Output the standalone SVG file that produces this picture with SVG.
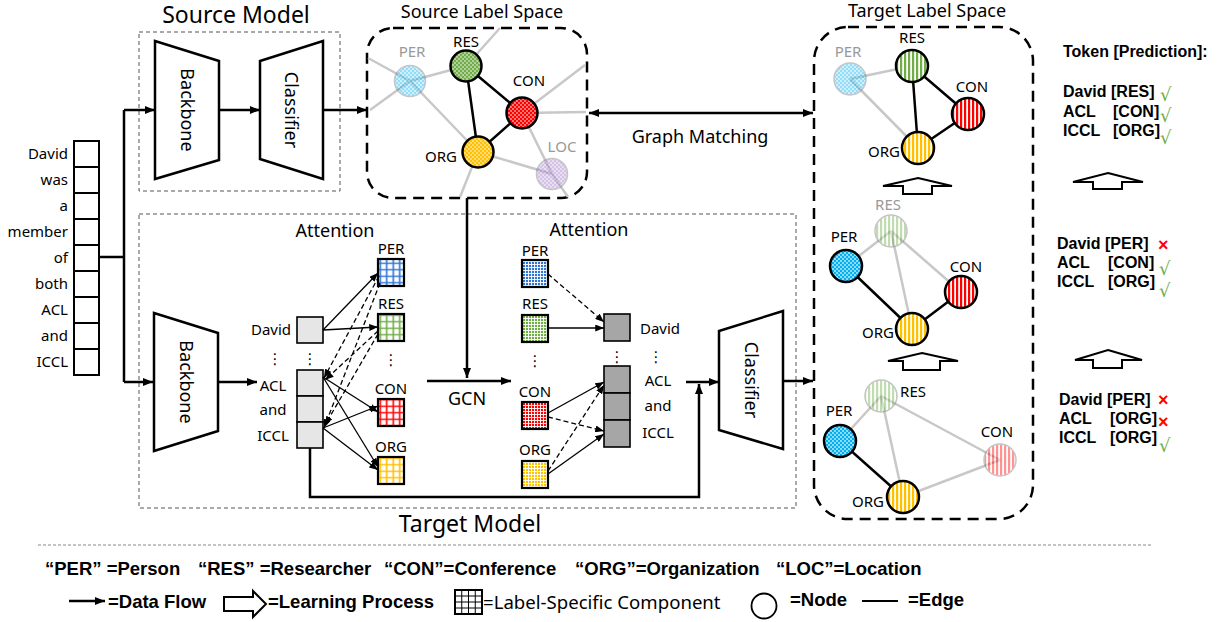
<svg xmlns="http://www.w3.org/2000/svg" width="1221" height="622" viewBox="0 0 1221 622">
<style>
.t{font-family:"Noto Sans","Open Sans","DejaVu Sans",sans-serif;fill:#000}
.b{font-family:"Liberation Sans",Arial,sans-serif;font-weight:bold;fill:#000}
.ttl{font-size:23px}
.sub{font-size:18px}
.lbl{font-size:15px}
.gl{fill:#999}
.mid{text-anchor:middle}
.end{text-anchor:end}
.ge{stroke:#c8c8c8;stroke-width:2.5;fill:none}
.be{stroke:#000;stroke-width:2.5;fill:none}
.trap{fill:#fff;stroke:#000;stroke-width:2.5}
.mbox{fill:none;stroke:#555;stroke-width:1;stroke-dasharray:4,3}
.lsbox{fill:none;stroke:#000;stroke-width:2.5;stroke-dasharray:11,7}
.tok{fill:#fff;stroke:#000;stroke-width:2}
.lc{fill:#e6e6e6;stroke:#000;stroke-width:1.6}
.dc{fill:#a6a6a6;stroke:#000;stroke-width:1.6}
.flow{fill:none;stroke:#000;stroke-width:2.5}
.att{fill:none;stroke:#000;stroke-width:1.3}
.attd{fill:none;stroke:#000;stroke-width:1.3;stroke-dasharray:5,3}
.node{stroke:#000;stroke-width:2.5}
.pale{stroke:#777;stroke-width:1.5;opacity:0.42}
.lsc{stroke:#000;stroke-width:2.2}
.hol{fill:#fff;stroke:#000;stroke-width:2}
.ok{font-family:"DejaVu Sans",sans-serif;font-size:18px;fill:#70ad47}
.no{font-family:"Liberation Sans",Arial,sans-serif;font-weight:bold;font-size:18px;fill:#ff0000}
</style>
<defs>
<marker id="ah" viewBox="0 0 10 8" refX="10" refY="4" markerWidth="10" markerHeight="8" orient="auto-start-reverse" markerUnits="userSpaceOnUse"><path d="M0,0 L10,4 L0,8 z" fill="#000"/></marker>
<marker id="as" viewBox="0 0 10 8" refX="10" refY="4" markerWidth="9" markerHeight="7" orient="auto" markerUnits="userSpaceOnUse"><path d="M0,0 L10,4 L0,8 z" fill="#000"/></marker>
<pattern id="ckB" width="4" height="4" patternUnits="userSpaceOnUse"><rect width="4" height="4" fill="#00b0f0"/><rect width="2" height="2" fill="#fff" fill-opacity=".55"/><rect x="2" y="2" width="2" height="2" fill="#fff" fill-opacity=".55"/></pattern>
<pattern id="ckG" width="4" height="4" patternUnits="userSpaceOnUse"><rect width="4" height="4" fill="#70ad47"/><rect width="2" height="2" fill="#fff" fill-opacity=".45"/><rect x="2" y="2" width="2" height="2" fill="#fff" fill-opacity=".45"/></pattern>
<pattern id="ckR" width="4" height="4" patternUnits="userSpaceOnUse"><rect width="4" height="4" fill="#ff0000"/><rect width="2" height="2" fill="#fff" fill-opacity=".45"/><rect x="2" y="2" width="2" height="2" fill="#fff" fill-opacity=".45"/></pattern>
<pattern id="ckY" width="4" height="4" patternUnits="userSpaceOnUse"><rect width="4" height="4" fill="#ffc000"/><rect width="2" height="2" fill="#fff" fill-opacity=".45"/><rect x="2" y="2" width="2" height="2" fill="#fff" fill-opacity=".45"/></pattern>
<pattern id="ckP" width="4" height="4" patternUnits="userSpaceOnUse"><rect width="4" height="4" fill="#9b72c8"/><rect width="2" height="2" fill="#fff" fill-opacity=".45"/><rect x="2" y="2" width="2" height="2" fill="#fff" fill-opacity=".45"/></pattern>
<pattern id="stG" width="4" height="4" patternUnits="userSpaceOnUse"><rect width="4" height="4" fill="#fff"/><rect width="2.2" height="4" fill="#70ad47"/></pattern>
<pattern id="stR" width="4" height="4" patternUnits="userSpaceOnUse"><rect width="4" height="4" fill="#fff"/><rect width="2.2" height="4" fill="#ff0000"/></pattern>
<pattern id="stY" width="4" height="4" patternUnits="userSpaceOnUse"><rect width="4" height="4" fill="#fff"/><rect width="2.2" height="4" fill="#ffc000"/></pattern>
<pattern id="gB" width="6.5" height="6.5" patternUnits="userSpaceOnUse"><rect width="6.5" height="6.5" fill="#fff"/><path d="M3.25,0V6.5M0,3.25H6.5" stroke="#2e75d6" stroke-width="1.6"/></pattern>
<pattern id="gG" width="6.5" height="6.5" patternUnits="userSpaceOnUse"><rect width="6.5" height="6.5" fill="#fff"/><path d="M3.25,0V6.5M0,3.25H6.5" stroke="#70ad47" stroke-width="1.6"/></pattern>
<pattern id="gR" width="6.5" height="6.5" patternUnits="userSpaceOnUse"><rect width="6.5" height="6.5" fill="#fff"/><path d="M3.25,0V6.5M0,3.25H6.5" stroke="#ff0000" stroke-width="1.6"/></pattern>
<pattern id="gY" width="6.5" height="6.5" patternUnits="userSpaceOnUse"><rect width="6.5" height="6.5" fill="#fff"/><path d="M3.25,0V6.5M0,3.25H6.5" stroke="#ffc000" stroke-width="1.6"/></pattern>
<pattern id="fB" width="3" height="3" patternUnits="userSpaceOnUse"><rect width="3" height="3" fill="#2e75d6"/><path d="M0.5,0V3M0,0.5H3" stroke="#fff" stroke-width="0.9"/></pattern>
<pattern id="fG" width="3" height="3" patternUnits="userSpaceOnUse"><rect width="3" height="3" fill="#70ad47"/><path d="M0.5,0V3M0,0.5H3" stroke="#fff" stroke-width="0.9"/></pattern>
<pattern id="fR" width="3" height="3" patternUnits="userSpaceOnUse"><rect width="3" height="3" fill="#ff0000"/><path d="M0.5,0V3M0,0.5H3" stroke="#fff" stroke-width="0.9"/></pattern>
<pattern id="fY" width="3" height="3" patternUnits="userSpaceOnUse"><rect width="3" height="3" fill="#ffc000"/><path d="M0.5,0V3M0,0.5H3" stroke="#fff" stroke-width="0.9"/></pattern>
</defs>
<rect width="1221" height="622" fill="#fff"/>

<!-- Input tokens -->
<g id="input-tokens">
<rect class="tok" x="74" y="141" width="25" height="26"/>
<rect class="tok" x="74" y="167" width="25" height="26"/>
<rect class="tok" x="74" y="193" width="25" height="26"/>
<rect class="tok" x="74" y="219" width="25" height="26"/>
<rect class="tok" x="74" y="245" width="25" height="26"/>
<rect class="tok" x="74" y="271" width="25" height="26"/>
<rect class="tok" x="74" y="297" width="25" height="26"/>
<rect class="tok" x="74" y="323" width="25" height="26"/>
<rect class="tok" x="74" y="349" width="25" height="26"/>
<g class="t lbl end">
<text x="68" y="159">David</text>
<text x="68" y="185">was</text>
<text x="68" y="211">a</text>
<text x="68" y="237">member</text>
<text x="68" y="263">of</text>
<text x="68" y="289">both</text>
<text x="68" y="315">ACL</text>
<text x="68" y="341">and</text>
<text x="68" y="367">ICCL</text>
</g>
</g>

<!-- Source model -->
<g id="source-model">
<text class="t ttl mid" x="236" y="23">Source Model</text>
<rect class="mbox" x="139" y="32" width="201" height="159"/>
<g id="source-backbone">
<polygon class="trap" points="155,41 219,61 219,160 155,179"/>
<text class="t sub mid" transform="translate(187,110) rotate(90)" dy="6">Backbone</text>
</g>
<g id="source-classifier">
<polygon class="trap" points="260,61 323,41 323,179 260,159"/>
<text class="t sub mid" transform="translate(291,110) rotate(90)" dy="6">Classifier</text>
</g>
</g>

<!-- Source label space -->
<g id="source-label-space">
<text class="t sub mid" x="482" y="18">Source Label Space</text>
<rect class="lsbox" x="367" y="28" width="220" height="170" rx="26"/>
<path class="ge" d="M368,58 L410,81 M370,110 L410,81 M410,81 L466,66 M410,81 L478,152 M466,66 L500,28 M522,113 L585,65 M522,113 L586,112 M522,113 L552,174 M478,152 L552,174 M478,152 L460,197 M552,174 L568,197"/>
<path class="be" d="M466,66 L478,152 M466,66 L522,113 M522,113 L478,152"/>
<g id="src-per"><circle class="pale" cx="410" cy="81" r="15.5" fill="url(#ckB)"/><text class="t lbl mid gl" x="412" y="57">PER</text></g>
<g id="src-res"><circle class="node" cx="466" cy="66" r="15.5" fill="url(#ckG)"/><text class="t lbl mid" x="466" y="47">RES</text></g>
<g id="src-con"><circle class="node" cx="522" cy="113" r="15.5" fill="url(#ckR)"/><text class="t lbl mid" x="529" y="86">CON</text></g>
<g id="src-org"><circle class="node" cx="478" cy="152" r="15.5" fill="url(#ckY)"/><text class="t lbl mid" x="441" y="162">ORG</text></g>
<g id="src-loc"><circle class="pale" cx="552" cy="174" r="15.5" fill="url(#ckP)"/><text class="t lbl mid gl" x="562" y="152">LOC</text></g>
</g>

<text class="t sub mid" x="700" y="143">Graph Matching</text>

<!-- Target model -->
<g id="target-model">
<rect class="mbox" x="139" y="214" width="657" height="294"/>
<text class="t ttl mid" x="470" y="532">Target Model</text>
<g id="target-backbone">
<polygon class="trap" points="154,313 218,333 218,431 154,451"/>
<text class="t sub mid" transform="translate(186,382) rotate(90)" dy="6">Backbone</text>
</g>
<g id="token-features">
<rect class="lc" x="297" y="317" width="26" height="26"/>
<rect class="lc" x="297" y="370" width="26" height="26"/>
<rect class="lc" x="297" y="396" width="26" height="26"/>
<rect class="lc" x="297" y="422" width="26" height="26"/>
<g class="t lbl mid">
<text x="271" y="335">David</text>
<text x="275" y="364">⋮</text>
<text x="310" y="364">⋮</text>
<text x="273" y="391">ACL</text>
<text x="273" y="415">and</text>
<text x="273" y="441">ICCL</text>
</g>
</g>
<text class="t sub mid" x="335" y="237">Attention</text>
<g id="label-components-1">
<rect class="lsc" x="378" y="259" width="26" height="27" fill="url(#gB)"/>
<rect class="lsc" x="378" y="314" width="26" height="27" fill="url(#gG)"/>
<rect class="lsc" x="378" y="399" width="26" height="27" fill="url(#gR)"/>
<rect class="lsc" x="378" y="457" width="26" height="27" fill="url(#gY)"/>
<g class="t lbl mid">
<text x="391" y="254">PER</text>
<text x="391" y="309">RES</text>
<text x="391" y="365">⋮</text>
<text x="391" y="394">CON</text>
<text x="391" y="452">ORG</text>
</g>
</g>
<text class="t sub mid" x="467" y="405">GCN</text>
<text class="t sub mid" x="589" y="236">Attention</text>
<g id="label-components-2">
<rect class="lsc" x="522" y="260" width="26" height="27" fill="url(#fB)"/>
<rect class="lsc" x="522" y="315" width="26" height="27" fill="url(#fG)"/>
<rect class="lsc" x="522" y="402" width="26" height="27" fill="url(#fR)"/>
<rect class="lsc" x="522" y="461" width="26" height="27" fill="url(#fY)"/>
<g class="t lbl mid">
<text x="535" y="256">PER</text>
<text x="535" y="309">RES</text>
<text x="535" y="366">⋮</text>
<text x="535" y="397">CON</text>
<text x="535" y="455">ORG</text>
</g>
</g>
<g id="enhanced-features">
<rect class="dc" x="604" y="314" width="26" height="27"/>
<rect class="dc" x="604" y="366" width="26" height="27"/>
<rect class="dc" x="604" y="393" width="26" height="27"/>
<rect class="dc" x="604" y="420" width="26" height="27"/>
<g class="t lbl mid">
<text x="660" y="334">David</text>
<text x="617" y="362">⋮</text>
<text x="656" y="362">⋮</text>
<text x="658" y="386">ACL</text>
<text x="658" y="411">and</text>
<text x="658" y="438">ICCL</text>
</g>
</g>
<g id="target-classifier">
<polygon class="trap" points="719,331 783,311 783,449 719,430"/>
<text class="t sub mid" transform="translate(751,380) rotate(90)" dy="6">Classifier</text>
</g>
</g>

<!-- Target label space -->
<g id="target-label-space">
<text class="t sub mid" x="927" y="17">Target Label Space</text>
<rect class="lsbox" x="814" y="27" width="219" height="492" rx="34"/>
<g id="graph-1">
<path class="ge" d="M850,79 L912,66 M850,79 L918,148"/>
<path class="be" d="M912,66 L918,148 M912,66 L968,114 M968,114 L918,148"/>
<circle class="pale" cx="850" cy="79" r="16" fill="url(#ckB)"/>
<circle class="node" cx="912" cy="66" r="16" fill="url(#stG)"/>
<circle class="node" cx="968" cy="114" r="16" fill="url(#stR)"/>
<circle class="node" cx="918" cy="148" r="16" fill="url(#stY)"/>
<text class="t lbl mid gl" x="848" y="57">PER</text>
<text class="t lbl mid" x="912" y="43">RES</text>
<text class="t lbl mid" x="972" y="92">CON</text>
<text class="t lbl mid" x="884" y="157">ORG</text>
</g>
<g id="graph-2">
<path class="ge" d="M891,231 L846,266 M891,231 L912,329 M891,231 L961,292"/>
<path class="be" d="M846,266 L912,329 M912,329 L961,292"/>
<circle class="pale" cx="891" cy="231" r="16" fill="url(#stG)"/>
<circle class="node" cx="846" cy="266" r="16" fill="url(#ckB)"/>
<circle class="node" cx="961" cy="292" r="16" fill="url(#stR)"/>
<circle class="node" cx="912" cy="329" r="16" fill="url(#stY)"/>
<text class="t lbl mid gl" x="888" y="210">RES</text>
<text class="t lbl mid" x="844" y="242">PER</text>
<text class="t lbl mid" x="966" y="272">CON</text>
<text class="t lbl mid" x="878" y="338">ORG</text>
</g>
<g id="graph-3">
<path class="ge" d="M881,396 L840,441 M881,396 L903,497 M881,396 L1000,460 M903,497 L1000,460"/>
<path class="be" d="M840,441 L903,497"/>
<circle class="pale" cx="881" cy="396" r="16" fill="url(#stG)"/>
<circle class="node" cx="840" cy="441" r="16" fill="url(#ckB)"/>
<circle class="pale" cx="1000" cy="460" r="16" fill="url(#stR)"/>
<circle class="node" cx="903" cy="497" r="16" fill="url(#stY)"/>
<text class="t lbl mid" x="913" y="397">RES</text>
<text class="t lbl mid" x="839" y="416">PER</text>
<text class="t lbl mid" x="997" y="437">CON</text>
<text class="t lbl mid" x="868" y="507">ORG</text>
</g>
</g>

<!-- Predictions -->
<g id="predictions" class="b" font-size="16">
<text x="1063" y="57">Token [Prediction]:</text>
<text x="1063" y="97">David [RES]</text>
<text x="1063" y="117">ACL</text><text x="1113" y="117">[CON]</text>
<text x="1063" y="136">ICCL</text><text x="1113" y="136">[ORG]</text>
<text x="1057" y="249">David [PER]</text>
<text x="1057" y="268">ACL</text><text x="1108" y="268">[CON]</text>
<text x="1057" y="287">ICCL</text><text x="1108" y="287">[ORG]</text>
<text x="1059" y="405">David [PER]</text>
<text x="1059" y="424">ACL</text><text x="1110" y="424">[ORG]</text>
<text x="1059" y="443">ICCL</text><text x="1110" y="443">[ORG]</text>
</g>
<g id="marks">
<text class="ok" x="1160" y="101">√</text>
<text class="ok" x="1160" y="122">√</text>
<text class="ok" x="1160" y="144">√</text>
<text class="no" x="1158" y="251">×</text>
<text class="ok" x="1159" y="275">√</text>
<text class="ok" x="1159" y="297">√</text>
<text class="no" x="1158" y="406">×</text>
<text class="no" x="1158" y="428">×</text>
<text class="ok" x="1159" y="452">√</text>
</g>

<!-- Connectors -->
<g id="connectors">
<path class="flow" d="M99,257 H124 M124,110 V382"/>
<path class="flow" d="M124,110 H155" marker-end="url(#ah)"/>
<path class="flow" d="M124,382 H153" marker-end="url(#ah)"/>
<path class="flow" d="M219,110 H260" marker-end="url(#ah)"/>
<path class="flow" d="M323,110 H367" marker-end="url(#ah)"/>
<path class="flow" d="M589,113 H813" marker-start="url(#ah)" marker-end="url(#ah)"/>
<path class="flow" d="M467,198 V378" marker-end="url(#ah)"/>
<path class="flow" d="M427,381 H511" marker-end="url(#ah)"/>
<path class="flow" d="M218,382 H257" marker-end="url(#ah)"/>
<path class="flow" d="M310,448 V497 H699 V384" marker-end="url(#ah)"/>
<path class="flow" d="M686,382 H719" marker-end="url(#ah)"/>
<path class="flow" d="M783,381 H813" marker-end="url(#ah)"/>
<!-- attention 1 -->
<path class="att" d="M323,330 L378,273" marker-end="url(#as)"/>
<path class="att" d="M323,330 L378,327" marker-end="url(#as)"/>
<path class="att" d="M323,377 L378,412" marker-end="url(#as)"/>
<path class="att" d="M323,377 L378,467" marker-end="url(#as)"/>
<path class="att" d="M323,428 L378,406" marker-end="url(#as)"/>
<path class="att" d="M323,428 L378,470" marker-end="url(#as)"/>
<path class="attd" d="M379,276 L324,378" marker-end="url(#as)"/>
<path class="attd" d="M380,283 L324,428" marker-end="url(#as)"/>
<path class="attd" d="M378,331 L325,380" marker-end="url(#as)"/>
<path class="attd" d="M378,334 L325,425" marker-end="url(#as)"/>
<!-- attention 2 -->
<path class="attd" d="M548,274 L604,322" marker-end="url(#as)"/>
<path class="att" d="M548,328 L604,328" marker-end="url(#as)"/>
<path class="att" d="M548,413 L604,382" marker-end="url(#as)"/>
<path class="attd" d="M548,417 L604,431" marker-end="url(#as)"/>
<path class="attd" d="M548,471 L604,385" marker-end="url(#as)"/>
<path class="att" d="M548,474 L604,434" marker-end="url(#as)"/>
</g>

<!-- Learning process arrows -->
<g id="learning-arrows">
<polygon class="hol" points="918,178 952,186 932,186 932,194 903,194 903,186 883,186"/>
<polygon class="hol" points="922,353 958,361 940,361 940,370 903,370 903,361 888,361"/>
<polygon class="hol" points="1108,173 1143,182 1122,182 1122,189 1093,189 1093,182 1073,182"/>
<polygon class="hol" points="1108,350 1142,360 1122,360 1122,368 1093,368 1093,360 1075,360"/>
</g>

<!-- Legend -->
<g id="legend">
<line x1="38" y1="545" x2="1151" y2="545" stroke="#888" stroke-width="1" stroke-dasharray="3,2"/>
<g class="b" font-size="18.5">
<text x="45" y="575">“PER” =Person</text>
<text x="198" y="575">“RES” =Researcher</text>
<text x="384" y="575">“CON”=Conference</text>
<text x="575" y="575">“ORG”=Organization</text>
<text x="776" y="575">“LOC”=Location</text>
<text x="108" y="608">=Data Flow</text>
<text x="268" y="608">=Learning Process</text>
<text x="790" y="606">=Node</text>
<text x="908" y="606">=Edge</text>
</g>
<path class="flow" d="M69,601 H105" stroke-width="2" marker-end="url(#ah)"/>
<polygon class="hol" points="224,597 253,597 253,591 266,604 253,617 253,611 224,611"/>
<rect x="455" y="590" width="27" height="24" fill="#fff" stroke="#000" stroke-width="2"/>
<path d="M461.75,590V614M468.5,590V614M475.25,590V614M455,596H482M455,602H482M455,608H482" stroke="#000" stroke-width="1"/>
<text class="t" font-size="18.6" x="483" y="609">=Label-Specific Component</text>
<circle cx="764" cy="606" r="12.5" fill="#fff" stroke="#000" stroke-width="1.8"/>
<line x1="862" y1="601" x2="898" y2="601" stroke="#000" stroke-width="2.2"/>
</g>
</svg>
